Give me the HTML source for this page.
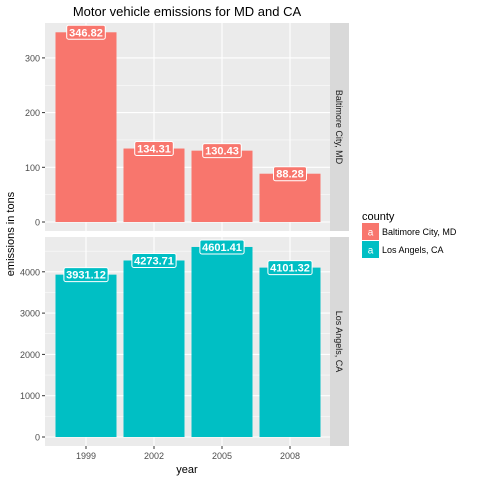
<!DOCTYPE html>
<html><head><meta charset="utf-8"><style>
body{margin:0;background:#fff;font-family:"Liberation Sans",Arial,sans-serif}
</style></head><body>
<svg id="c" width="480" height="480" xmlns="http://www.w3.org/2000/svg" font-family="Liberation Sans, Arial, sans-serif"></svg>
<script>
const years=["1999","2002","2005","2008"];
const mdValues=[346.82,134.31,130.43,88.28];
const caValues=[3931.12,4273.71,4601.41,4101.32];
const mdTicks=[0,100,200,300];
const caTicks=[0,1000,2000,3000,4000];
const NS="http://www.w3.org/2000/svg";
const svg=document.getElementById('c');
function el(t,a,p){const e=document.createElementNS(NS,t);for(const k in a)e.setAttribute(k,a[k]);(p||svg).appendChild(e);return e;}
const X0=45,X1=330;
const xc=i=>86+i*68;
const bw=61;
const panels=[
 {top:23,bot:231,zeroY:222,scale:54.7/100,vals:mdValues,ticks:mdTicks,minor:[50,150,250],col:"#F8766D",strip:"Baltimore City, MD",name:"md"},
 {top:237,bot:446,zeroY:437,scale:41.3/1000,vals:caValues,ticks:caTicks,minor:[500,1500,2500,3500,4500],col:"#00BFC4",strip:"Los Angels, CA",name:"ca"}
];
panels.forEach(p=>{
 const g=el('g',{});
 
 
 const y=v=>p.zeroY-v*p.scale;
 el('rect',{x:X0,y:p.top,width:X1-X0,height:p.bot-p.top,fill:"#EBEBEB"},g);
 p.minor.forEach(v=>{if(y(v)>p.top)el('line',{x1:X0,x2:X1,y1:y(v),y2:y(v),stroke:"#fff","stroke-width":0.5},g)});
 years.forEach((_,i)=>{el('line',{x1:xc(i),x2:xc(i),y1:p.top,y2:p.bot,stroke:"#fff","stroke-width":1.1},g)});
 p.ticks.forEach(v=>{
  el('line',{x1:X0,x2:X1,y1:y(v),y2:y(v),stroke:"#fff","stroke-width":1.1},g);
  el('line',{x1:X0-3,x2:X0,y1:y(v),y2:y(v),stroke:"#333","stroke-width":1},g);
  const t=el('text',{x:X0-5,y:y(v)+3.5,"text-anchor":"end","font-size":9,fill:"#4D4D4D"},g);t.textContent=v;
 });
 p.vals.forEach((v,i)=>{
  const b=el('rect',{x:xc(i)-bw/2,y:y(v),width:bw,height:y(0)-y(v),fill:p.col},g);
  
  
  const lbl=v.toFixed(2);
  const w=lbl.length*5.6+5;
  el('rect',{x:xc(i)-w/2,y:y(v)-7,width:w,height:14,rx:2,fill:p.col,stroke:"#fff","stroke-width":1},g);
  const t=el('text',{x:xc(i),y:y(v)+4,"text-anchor":"middle","font-size":11,"font-weight":"bold",fill:"#fff"},g);
  t.textContent=lbl;
  
  
 });
 el('rect',{x:330,y:p.top,width:19,height:p.bot-p.top,fill:"#D9D9D9"},g);
 const cy=(p.top+p.bot)/2;
 const st=el('text',{x:336,y:cy,"text-anchor":"middle","font-size":9,fill:"#1A1A1A",transform:`rotate(90 336 ${cy})`},g);
 st.textContent=p.strip;
 
 
});
years.forEach((yr,i)=>{
 el('line',{x1:xc(i),x2:xc(i),y1:446,y2:449,stroke:"#333"});
 const t=el('text',{x:xc(i),y:459,"text-anchor":"middle","font-size":9,fill:"#4D4D4D"});t.textContent=yr;
 
 
});
let t=el('text',{x:187,y:473,"text-anchor":"middle","font-size":11,fill:"#000"});t.textContent="year";

t=el('text',{x:14,y:234,"text-anchor":"middle","font-size":11,fill:"#000",transform:"rotate(-90 14 234)"});t.textContent="emissions in tons";

t=el('text',{x:187,y:16,"text-anchor":"middle","font-size":13,fill:"#000"});t.textContent="Motor vehicle emissions for MD and CA";

const lg=el('g',{});

t=el('text',{x:362,y:220,"font-size":11,fill:"#000"},lg);t.textContent="county";
[["#F8766D","Baltimore City, MD"],["#00BFC4","Los Angels, CA"]].forEach((d,i)=>{
 const yy=223+i*18;
 const r=el('rect',{x:362,y:yy,width:17,height:17,fill:d[0]},lg);
 
 let a=el('text',{x:370.5,y:yy+12.5,"text-anchor":"middle","font-size":10,fill:"#fff"},lg);a.textContent="a";
 a=el('text',{x:382,y:yy+12,"font-size":9,fill:"#000"},lg);a.textContent=d[1];
 
});
</script>
</body></html>
